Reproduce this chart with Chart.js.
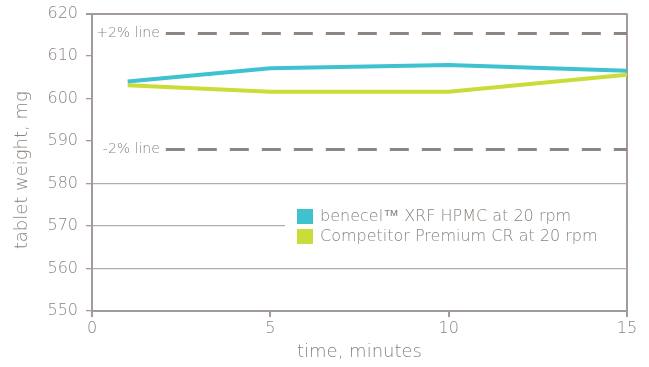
<!DOCTYPE html>
<html>
<head>
<meta charset="utf-8">
<script src="https://cdn.jsdelivr.net/npm/chart.js@4/dist/chart.umd.min.js"></script>
<style>
  html, body { margin: 0; padding: 0; background: #fff; }
  #wrap { width: 649px; height: 367px; position: relative; }
</style>
</head>
<body>
<div id="wrap"><canvas id="c"></canvas></div>
<script>
// Tablet weight over time, two HPMC grades at 20 rpm
const times = [1, 5, 10, 15];
const benecelWeights = [604.0, 607.1, 607.9, 606.5];
const competitorWeights = [603.1, 601.6, 601.6, 605.6];
const seriesNames = ['benecel\u2122 XRF HPMC at 20 rpm', 'Competitor Premium CR at 20 rpm'];
const limitLabels = ['+2% line', '-2% line'];
const limitValues = [615.3, 588.0];
const limitSpan = [2.07, 15];
const xTicks = [0, 5, 10, 15];
const yTicks = [550, 560, 570, 580, 590, 600, 610, 620];
const hiddenGrid = [590, 600, 610];
const yTitle = 'tablet weight, mg';
const xTitle = 'time, minutes';

const TEXT = '#8a837f';
const AXIS = '#a39b97';
const GRID = '#b3aca8';
const FONT = "'DejaVu Sans', sans-serif";
const WEIGHT = 200;

Chart.defaults.font.family = FONT;
Chart.defaults.font.weight = WEIGHT;

const pts = (xs, ys) => xs.map((x, i) => ({ x, y: ys[i] }));

// Limit-line captions, the y-axis title and the in-plot legend box
const annotate = {
  id: 'annotate',
  afterDatasetsDraw(chart) {
    const { ctx, scales: { x, y }, chartArea: area } = chart;
    ctx.save();
    ctx.font = WEIGHT + ' 14px ' + FONT;
    ctx.fillStyle = TEXT;
    ctx.textBaseline = 'middle';
    ctx.textAlign = 'right';
    limitLabels.forEach((t, i) => {
      ctx.fillText(t, x.getPixelForValue(limitSpan[0]) - 6, y.getPixelForValue(limitValues[i]));
    });

    // y-axis title
    ctx.save();
    ctx.translate(22, (area.top + area.bottom) / 2 + 8);
    ctx.rotate(-Math.PI / 2);
    ctx.textAlign = 'center';
    ctx.font = WEIGHT + ' 18px ' + FONT;
    ctx.fillText(yTitle, 0, 0);
    ctx.restore();

    // legend
    const lx = 285, ly = 199, lw = area.right - 1 - lx, lh = 52;
    ctx.fillStyle = '#fff';
    ctx.fillRect(lx, ly, lw, lh);
    const series = chart.data.datasets.slice(0, 2);
    ctx.textAlign = 'left';
    series.forEach((ds, i) => {
      const cy = 216 + i * 20;
      ctx.fillStyle = ds.borderColor;
      ctx.fillRect(297, cy - 7, 16, 15);
      ctx.fillStyle = TEXT;
      ctx.font = WEIGHT + ' 16px ' + FONT;
      ctx.fillText(ds.label, 320, cy + 1);
    });
    ctx.restore();
  }
};

new Chart(document.getElementById('c'), {
  type: 'line',
  data: {
    datasets: [
      {
        label: seriesNames[0],
        data: pts(times, benecelWeights),
        borderColor: '#3fc2cf',
        borderWidth: 4,
        pointRadius: 0,
        tension: 0
      },
      {
        label: seriesNames[1],
        data: pts(times, competitorWeights),
        borderColor: '#cadc37',
        borderWidth: 4,
        pointRadius: 0,
        tension: 0
      },
      {
        label: limitLabels[0],
        data: pts(limitSpan, [limitValues[0], limitValues[0]]),
        borderColor: '#8e8581',
        borderWidth: 3,
        borderDash: [19, 13],
        pointRadius: 0
      },
      {
        label: limitLabels[1],
        data: pts(limitSpan, [limitValues[1], limitValues[1]]),
        borderColor: '#8e8581',
        borderWidth: 3,
        borderDash: [19, 13],
        pointRadius: 0
      }
    ]
  },
  options: {
    responsive: true,
    maintainAspectRatio: false,
    animation: false,
    layout: { padding: { left: 0, right: 22, top: 13.5, bottom: 0 } },
    plugins: { legend: { display: false }, tooltip: { enabled: false } },
    scales: {
      x: {
        type: 'linear',
        min: 0,
        max: 15,
        afterBuildTicks(s) { s.ticks = xTicks.map(v => ({ value: v })); },
        afterFit(s) { s.height = 56; },
        border: { color: AXIS, width: 2 },
        grid: {
          color: c => (c.tick && c.tick.value === 15) ? AXIS : 'rgba(0,0,0,0)',
          lineWidth: 2,
          tickColor: AXIS,
          tickLength: 6,
          drawTicks: true
        },
        ticks: { color: TEXT, font: { size: 16 }, padding: 2, maxRotation: 0 },
        title: { display: true, text: xTitle, color: TEXT, font: { size: 18 }, padding: { top: 0 } }
      },
      y: {
        min: 550,
        max: 620,
        afterBuildTicks(s) { s.ticks = yTicks.map(v => ({ value: v })); },
        afterFit(s) { s.width = 92; s.paddingTop = 0; s.paddingBottom = 0; },
        border: { color: AXIS, width: 2 },
        grid: {
          color: c => {
            const v = c.tick && c.tick.value;
            if (hiddenGrid.includes(v)) return 'rgba(0,0,0,0)';
            if (v === 620) return AXIS;
            return GRID;
          },
          lineWidth: c => (c.tick && c.tick.value === 620) ? 2 : 1.3,
          tickColor: AXIS,
          tickLength: 6
        },
        ticks: { color: TEXT, font: { size: 16 }, padding: 8 },
        title: { display: false }
      }
    }
  },
  plugins: [annotate]
});
</script>
</body>
</html>
